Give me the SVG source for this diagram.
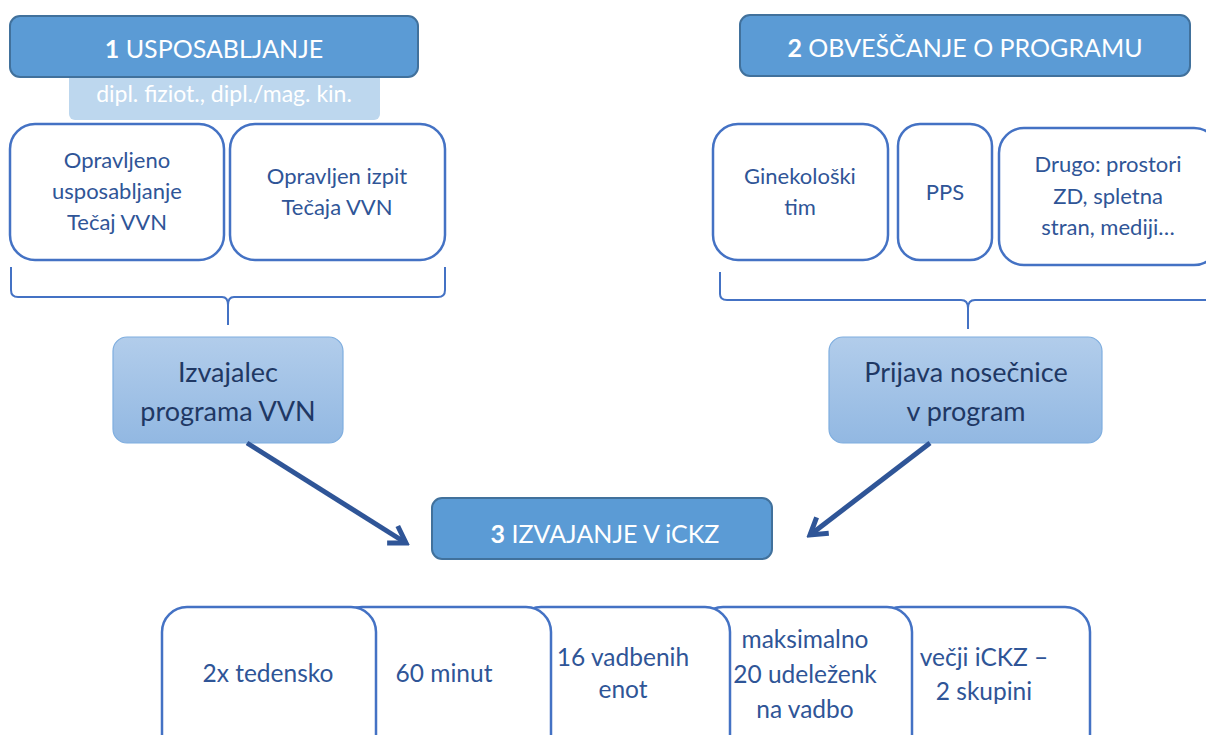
<svg xmlns="http://www.w3.org/2000/svg" width="1206" height="735" viewBox="0 0 1206 735">
<defs>
<linearGradient id="g" x1="0" y1="0" x2="0" y2="1">
<stop offset="0" stop-color="#B2CDEB"/>
<stop offset="1" stop-color="#92B8E2"/>
</linearGradient>
<marker id="ah" viewBox="0 0 24 24" refX="20" refY="12" markerWidth="24" markerHeight="24" markerUnits="userSpaceOnUse" orient="auto">
<path d="M4,2 L20,12 L4,22" fill="none" stroke="#2F5597" stroke-width="5" stroke-linejoin="miter"/>
</marker>
<style>
.hdr{fill:#5B9BD5;stroke:#41719C;stroke-width:2}
.ht{font-family:Lato,"Liberation Sans",sans-serif;font-size:25px;fill:#fff;text-anchor:middle}
.wb{fill:#fff;stroke:#4472C4;stroke-width:2.5}
.wt{font-family:Lato,"Liberation Sans",sans-serif;font-size:22px;fill:#2F5597;text-anchor:middle}
.bt{font-family:Lato,"Liberation Sans",sans-serif;font-size:24.5px;fill:#2F5597;text-anchor:middle}
.mb{fill:url(#g);stroke:#7FAEDF;stroke-width:1.2}
.mt{font-family:Lato,"Liberation Sans",sans-serif;font-size:27px;fill:#1F3864;text-anchor:middle}
.br{fill:none;stroke:#4472C4;stroke-width:2}
.ar{fill:none;stroke:#2F5597;stroke-width:5}
</style>
</defs>
<rect width="1206" height="735" fill="#fff"/>

<g id="n-sub1">
<rect x="69" y="70" width="311" height="50" rx="6" fill="#BDD7EE"/>
<text x="224" y="102" font-family="Lato,'Liberation Sans',sans-serif" font-size="23" fill="#fff" text-anchor="middle">dipl. fiziot., dipl./mag. kin.</text>
</g>
<g id="n-h1">
<rect class="hdr" x="10" y="16" width="408" height="61" rx="10"/>
<text class="ht" x="214" y="58"><tspan font-weight="bold">1</tspan> USPOSABLJANJE</text>
</g>
<g id="n-h2">
<rect class="hdr" x="740" y="15" width="450" height="61" rx="10"/>
<text class="ht" x="965" y="57"><tspan font-weight="bold">2</tspan> OBVEŠČANJE O PROGRAMU</text>
</g>

<g id="n-a1">
<rect class="wb" x="10" y="124" width="214" height="136" rx="25"/>
<text class="wt" x="117" y="168">Opravljeno</text>
<text class="wt" x="117" y="199">usposabljanje</text>
<text class="wt" x="117" y="230">Tečaj VVN</text>
</g>
<g id="n-a2">
<rect class="wb" x="230" y="124" width="215" height="136" rx="25"/>
<text class="wt" x="337" y="184">Opravljen izpit</text>
<text class="wt" x="337" y="215">Tečaja VVN</text>
</g>
<g id="n-b1">
<rect class="wb" x="713" y="124" width="175" height="136" rx="25"/>
<text class="wt" x="800" y="184">Ginekološki</text>
<text class="wt" x="800" y="215">tim</text>
</g>
<g id="n-b2">
<rect class="wb" x="898" y="124" width="94" height="136" rx="22"/>
<text class="wt" x="945" y="200">PPS</text>
</g>
<g id="n-b3">
<rect class="wb" x="999" y="128" width="220" height="137" rx="25"/>
<text class="wt" x="1108" y="172">Drugo: prostori</text>
<text class="wt" x="1108" y="204">ZD, spletna</text>
<text class="wt" x="1108" y="235">stran, mediji…</text>
</g>

<g id="braces">
<path class="br" d="M11,267 L11,290 Q11,297 18,297 L222,297 Q228,297 228,305 L228,325 M228,305 Q228,297 234,297 L438,297 Q445,297 445,290 L445,267"/>
<path class="br" d="M720,272 L720,294 Q720,300 727,300 L961,300 Q968,300 968,308 L968,329 M968,308 Q968,300 975,300 L1210,300 Q1217,300 1217,294 L1217,272"/>
</g>

<g id="n-c1">
<rect class="mb" x="113" y="337" width="230" height="106" rx="14"/>
<text class="mt" x="228" y="382">Izvajalec</text>
<text class="mt" x="228" y="421">programa VVN</text>
</g>
<g id="n-c2">
<rect class="mb" x="829" y="337" width="273" height="106" rx="14"/>
<text class="mt" x="966" y="382">Prijava nosečnice</text>
<text class="mt" x="966" y="421">v program</text>
</g>

<g id="connectors">
<line class="ar" x1="247" y1="443" x2="406" y2="543" marker-end="url(#ah)"/>
<line class="ar" x1="930" y1="443" x2="810" y2="535" marker-end="url(#ah)"/>
</g>

<g id="n-h3">
<rect class="hdr" x="432" y="498" width="340" height="61" rx="10"/>
<text class="ht" x="605" y="543"><tspan font-weight="bold">3</tspan> IZVAJANJE V iCKZ</text>
</g>

<g id="n-d5">
<rect class="wb" x="876" y="607" width="214" height="160" rx="25"/>
<text class="bt" x="984" y="666">večji iCKZ –</text>
<text class="bt" x="984" y="700">2 skupini</text>
</g>
<g id="n-d4">
<rect class="wb" x="698" y="607" width="214" height="160" rx="25"/>
<text class="bt" x="805" y="648">maksimalno</text>
<text class="bt" x="805" y="683">20 udeleženk</text>
<text class="bt" x="805" y="718">na vadbo</text>
</g>
<g id="n-d3">
<rect class="wb" x="516" y="607" width="214" height="160" rx="25"/>
<text class="bt" x="623" y="666">16 vadbenih</text>
<text class="bt" x="623" y="698">enot</text>
</g>
<g id="n-d2">
<rect class="wb" x="337" y="607" width="214" height="160" rx="25"/>
<text class="bt" x="444" y="682">60 minut</text>
</g>
<g id="n-d1">
<rect class="wb" x="162" y="607" width="214" height="160" rx="25"/>
<text class="bt" x="268" y="682">2x tedensko</text>
</g>
</svg>
